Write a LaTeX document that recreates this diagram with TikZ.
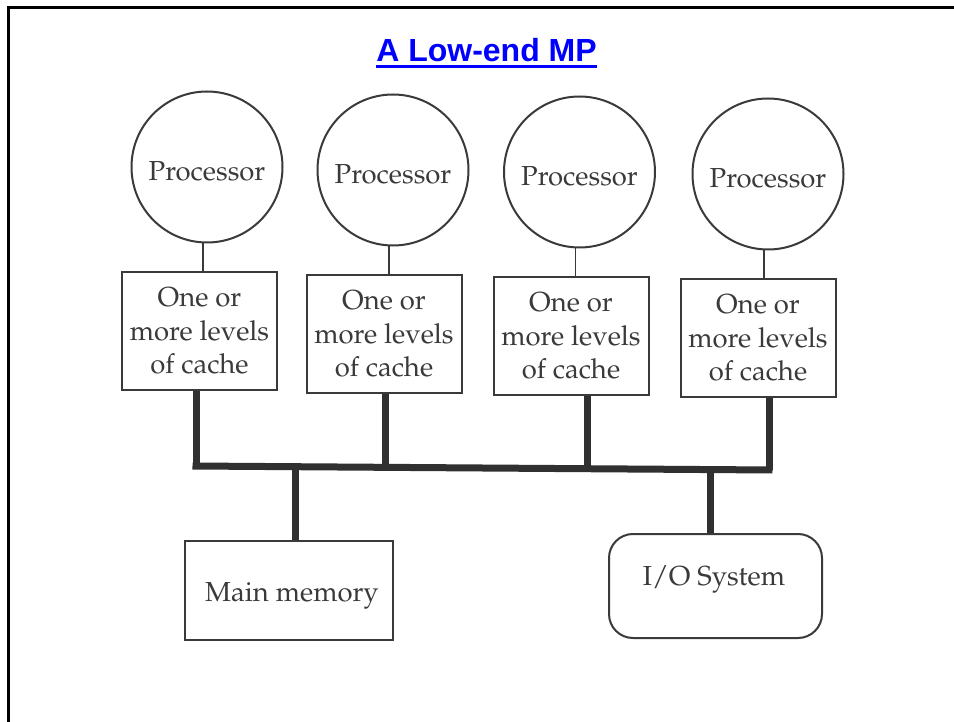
\documentclass[tikz,border=0pt]{standalone}
\usepackage[T1]{fontenc}
\usepackage{fontspec}
\newfontfamily\headfont{Liberation Sans}
\newcommand\bookfont{\fontencoding{T1}\fontfamily{ppl}\selectfont}
% move text inside a node without changing the space it takes
\newcommand\nudge[2]{\raisebox{#1}[\height][\depth]{#2}}
\definecolor{ink}{HTML}{3A3A3A}
\definecolor{busgray}{HTML}{303030}
\definecolor{headblue}{RGB}{0,0,255}
\tikzset{
  unit/.style={draw=ink, line width=2pt, text=ink, inner sep=0pt, align=center,
    font=\bookfont\fontsize{27.5}{33.5}\selectfont},
  proc/.style={unit, circle, minimum size=151pt},
  cachebox/.style={unit, rectangle, minimum width=155pt, minimum height=118pt},
  membox/.style={unit, rectangle, minimum width=208pt, minimum height=99pt},
  iobox/.style={unit, rectangle, rounded corners=24pt, minimum width=213pt, minimum height=104pt},
  stem/.style={draw=ink, line width=1.6pt},
  bus/.style={draw=busgray, line width=7pt},
}
\begin{document}
\begin{tikzpicture}[x=1pt, y=-1pt]
  \useasboundingbox (0,0) rectangle (954,722);
  \fill[white] (0,0) rectangle (954,722);
  % slide frame (top and left edges)
  \draw[black, line width=3pt] (8,740) -- (8,8) -- (970,8);

  % heading
  \node[inner sep=0pt, anchor=base, text=headblue,
        font=\headfont\bfseries\fontsize{32}{38}\selectfont] (title) at (486.5,62) {A Low-end MP};
  \draw[headblue, line width=3pt] ([yshift=-5pt]title.base west) -- ([yshift=-5pt]title.base east);

  % processors
  \node[proc] (p1) at (207,167) {\nudge{-4pt}{Processor}};
  \node[proc] (p2) at (393,170) {\nudge{-4pt}{Processor}};
  \node[proc] (p3) at (579.5,172) {\nudge{-4pt}{Processor}};
  \node[proc] (p4) at (768,174) {\nudge{-4pt}{Processor}};

  % caches
  \node[cachebox] (c1) at (199.5,331) {One or\\more levels\\of cache};
  \node[cachebox] (c2) at (384,334) {One or\\more levels\\of cache};
  \node[cachebox] (c3) at (571,336) {One or\\more levels\\of cache};
  \node[cachebox] (c4) at (758,338) {One or\\more levels\\of cache};

  % memory and I/O
  \node[membox] (mem) at (289,590.5) {\hspace*{6pt}\nudge{-5pt}{Main memory}};
  \node[iobox] (io) at (715.5,586) {\nudge{7pt}{I/O System}\hspace*{3pt}};

  % processor-to-cache links
  \foreach \i in {1,2,3,4}
    \draw[stem] ([xshift=-4pt]p\i.south) -- ([xshift=-4pt]p\i.south |- c\i.north);

  % shared bus
  \coordinate (b1) at (196,466);
  \coordinate (b2) at (385,467.5);
  \coordinate (b3) at (587,468.8);
  \coordinate (b4) at (769,470);
  \coordinate (bm) at (295,467);
  \coordinate (bi) at (710,469.6);
  \draw[bus] ([xshift=-3.5pt]b1) -- ([xshift=3.5pt]b4);
  \foreach \i in {1,2,3,4}
    \draw[bus] (b\i |- c\i.south) -- (b\i);
  \draw[bus] (bm) -- (bm |- mem.north);
  \draw[bus] (bi) -- (bi |- io.north);
\end{tikzpicture}
\end{document}
